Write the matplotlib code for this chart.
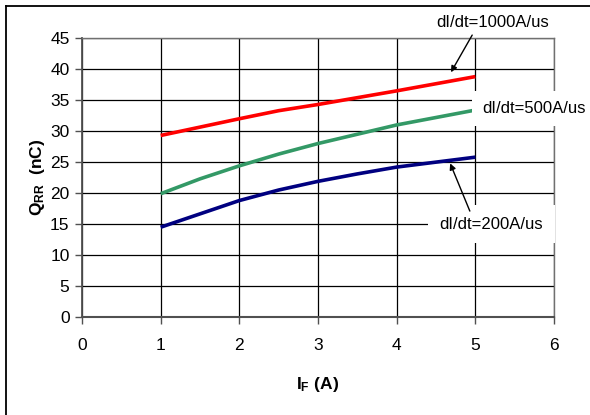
import matplotlib
matplotlib.use("Agg")
import matplotlib.pyplot as plt
from matplotlib.lines import Line2D

plt.rcParams['font.family'] = ['Liberation Sans', 'DejaVu Sans']
plt.rcParams['mathtext.fontset'] = 'custom'
plt.rcParams['mathtext.rm'] = 'Liberation Sans'
plt.rcParams['mathtext.bf'] = 'Liberation Sans:bold'

# data
if_1000 = [1, 2, 2.5, 3, 4, 5]
qrr_1000 = [29.3, 32.0, 33.3, 34.3, 36.5, 38.8]
if_500 = [1, 1.5, 2, 2.5, 3, 4, 5]
qrr_500 = [19.9, 22.3, 24.4, 26.3, 28.0, 31.0, 33.4]
if_200 = [1, 2, 2.5, 3, 3.5, 4, 5]
qrr_200 = [14.5, 18.8, 20.5, 21.9, 23.1, 24.2, 25.8]
xticks = [0, 1, 2, 3, 4, 5, 6]
yticks = [0, 5, 10, 15, 20, 25, 30, 35, 40, 45]

fig = plt.figure(figsize=(5.9, 4.15), dpi=100)
ax = fig.add_axes([0.139, 0.236, 0.8, 0.672])

# outer frame, only left and top edges are visible
fig.add_artist(Line2D([0.010, 0.010], [0.0, 0.986], transform=fig.transFigure,
                      color='black', lw=1.3))
fig.add_artist(Line2D([0.010, 1.0], [0.986, 0.986], transform=fig.transFigure,
                      color='black', lw=1.3))

ax.plot(if_1000, qrr_1000, color='#ff0000', lw=2.6, solid_capstyle='butt')
ax.plot(if_500, qrr_500, color='#339966', lw=2.6, solid_capstyle='butt')
ax.plot(if_200, qrr_200, color='#000080', lw=2.6, solid_capstyle='butt')

ax.set_xlim(0, 6)
ax.set_ylim(0, 45)
ax.set_xticks(xticks)
ax.set_yticks(yticks)
ax.grid(True, color='black', lw=0.9)
ax.set_axisbelow(True)
for s in ax.spines.values():
    s.set_color('#707070')
    s.set_linewidth(1.0)
ax.spines['bottom'].set_color('#505050')
ax.spines['bottom'].set_linewidth(1.5)
ax.spines['left'].set_color('#505050')
ax.spines['left'].set_linewidth(1.3)
ax.tick_params(direction='out', length=5, width=1, color='#505050', labelsize=12.5)
ax.tick_params(axis='x', pad=10)
ax.tick_params(axis='y', pad=4)

ax.set_xlabel(r'$\mathbf{I_F}$ (A)', fontsize=12.5, fontweight='bold', labelpad=16)
ax.set_ylabel(r'$\mathbf{Q_{RR}}$  (nC)', fontsize=12.5, fontweight='bold', labelpad=2)

ax.annotate('dI/dt=1000A/us', xy=(5.22, 47.6), xycoords='data',
            fontsize=12, ha='center', va='center', annotation_clip=False)
ax.annotate('', xy=(4.69, 39.5), xytext=(4.96, 45.5), annotation_clip=False,
            arrowprops=dict(arrowstyle='-|>', color='black', lw=1, mutation_scale=9,
                            shrinkA=0, shrinkB=0))
ax.text(5.74, 33.7, 'dI/dt=500A/us', fontsize=12, ha='center', va='center',
        bbox=dict(facecolor='white', edgecolor='none', boxstyle='square,pad=0.6'),
        clip_on=False, zorder=5)
ax.text(5.2, 15.0, 'dI/dt=200A/us', fontsize=12, ha='center', va='center',
        bbox=dict(facecolor='white', edgecolor='none', boxstyle='square,pad=0.7'),
        clip_on=False, zorder=5)
ax.annotate('', xy=(4.68, 24.8), xytext=(4.93, 17.1), annotation_clip=False,
            arrowprops=dict(arrowstyle='-|>', color='black', lw=1, mutation_scale=9,
                            shrinkA=0, shrinkB=0), zorder=6)

fig.savefig('out.png', dpi=100)
